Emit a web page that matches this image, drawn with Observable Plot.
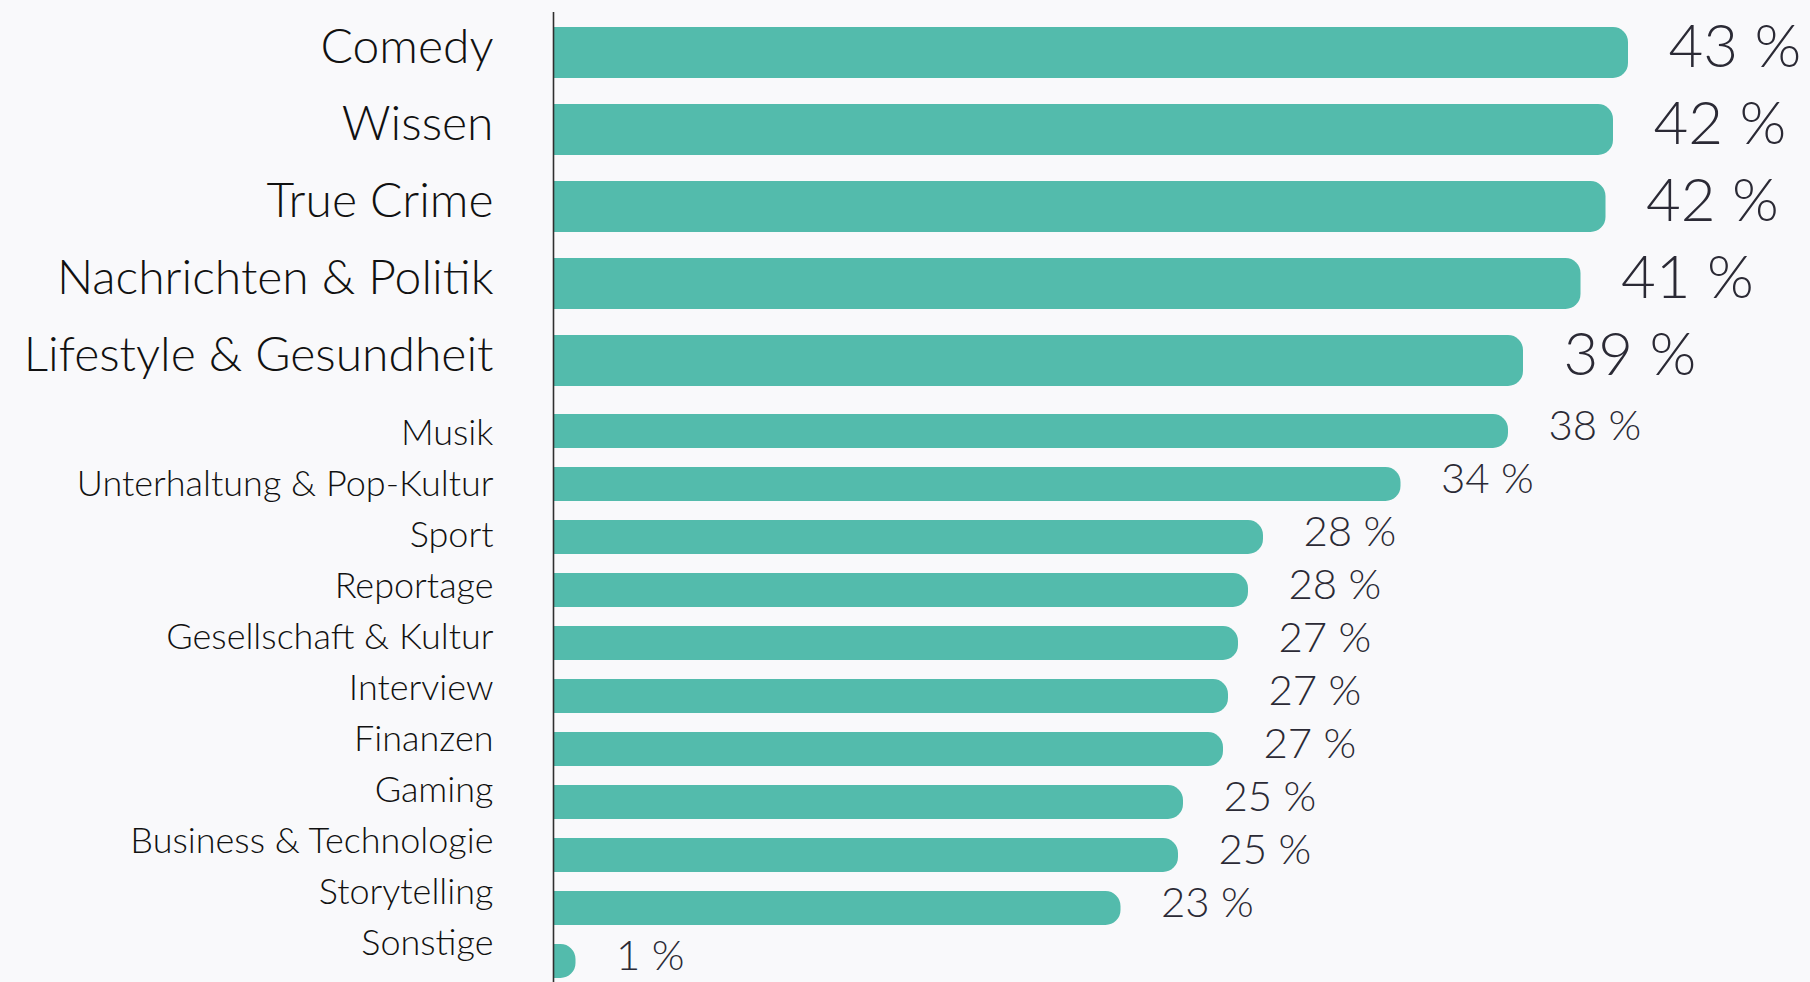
<!DOCTYPE html>
<html>
<head>
<meta charset="utf-8">
<script src="https://cdn.jsdelivr.net/npm/d3@7"></script>
<script src="https://cdn.jsdelivr.net/npm/@observablehq/plot@0.6"></script>
<style>
  html, body { margin: 0; padding: 0; background: #f9f9fb; }
  #chart svg { display: block; }
  .stack { position: relative; }
  .stack .overlay { position: absolute; left: 0; top: 0; pointer-events: none; }
</style>
</head>
<body>
<div id="chart"></div>
<script>
// Highlighted categories (top group)
const topCategories = ["Comedy", "Wissen", "True Crime", "Nachrichten & Politik", "Lifestyle & Gesundheit"];
const topValues = [43.0, 42.4, 42.1, 41.1, 38.8];

// Remaining categories (bottom group)
const restCategories = ["Musik", "Unterhaltung & Pop-Kultur", "Sport", "Reportage", "Gesellschaft & Kultur",
  "Interview", "Finanzen", "Gaming", "Business & Technologie", "Storytelling", "Sonstige"];
const restValues = [38.2, 33.9, 28.4, 27.8, 27.4, 27.0, 26.8, 25.2, 25.0, 22.7, 0.9];

const barColor = "#53bbac";
const labelColor = "#111111";
const valueColor = "#2b2a35";
const font = "Lato, 'Open Sans', sans-serif";

function makeChart(categories, values, cfg) {
  const data = categories.map((c, i) => ({category: c, value: values[i]}));
  const marks = [
    Plot.barX(data, {x: "value", y: "category", fill: barColor, rx2: 15}),
    Plot.text(data, {x: "value", y: "category", text: d => Math.round(d.value) + " %", textAnchor: "start",
      dx: 40, dy: cfg.valueDy, fontSize: cfg.valueSize, fontWeight: 300, fill: valueColor}),
    Plot.ruleX([0], {stroke: "#2f2f2f", strokeWidth: 1.6})
  ];
  if (cfg.labels) marks.push(Plot.axisY({tickSize: 0, tickPadding: 60, fontSize: cfg.labelSize, fontWeight: 300, dy: cfg.labelDy, fill: labelColor, label: null}));
  return Plot.plot({
    width: 1810,
    height: cfg.height,
    marginLeft: 553,
    marginRight: 7,
    marginTop: cfg.marginTop,
    marginBottom: 0,
    style: {background: "transparent", fontFamily: font, color: labelColor, overflow: "visible"},
    x: {domain: [0, 50], axis: null},
    y: {domain: categories, paddingInner: cfg.paddingInner, paddingOuter: cfg.paddingOuter, align: cfg.align, axis: null, label: null},
    marks
  });
}

// category labels of the lower group sit on a slightly tighter rhythm than the bars
function makeLabels(categories, cfg) {
  return Plot.plot({
    width: 1810,
    height: cfg.height,
    marginLeft: 553,
    marginRight: 7,
    marginTop: cfg.marginTop,
    marginBottom: cfg.marginBottom,
    style: {background: "transparent", fontFamily: font, color: labelColor, overflow: "visible"},
    x: {domain: [0, 50], axis: null},
    y: {type: "point", domain: categories, padding: 0, axis: null, label: null},
    marks: [
      Plot.axisY({tickSize: 0, tickPadding: 60, fontSize: cfg.labelSize, fontWeight: 300, fill: labelColor, label: null})
    ]
  });
}

const el = document.getElementById("chart");
el.append(makeChart(topCategories, topValues, {
  height: 400, marginTop: 12, paddingInner: 0.344, paddingOuter: 0.169, align: 0.5,
  labels: true, labelSize: 48, valueSize: 60, labelDy: -5, valueDy: -5
}));

const stack = document.createElement("div");
stack.className = "stack";
stack.append(makeChart(restCategories, restValues, {
  height: 582, marginTop: 0, paddingInner: 0.36, paddingOuter: 0.155, align: 0.8,
  labels: false, valueSize: 42, valueDy: -5
}));
const overlay = makeLabels(restCategories, {height: 582, marginTop: 30.5, marginBottom: 36.6, labelSize: 36});
overlay.classList.add("overlay");
stack.append(overlay);
el.append(stack);
</script>
</body>
</html>
